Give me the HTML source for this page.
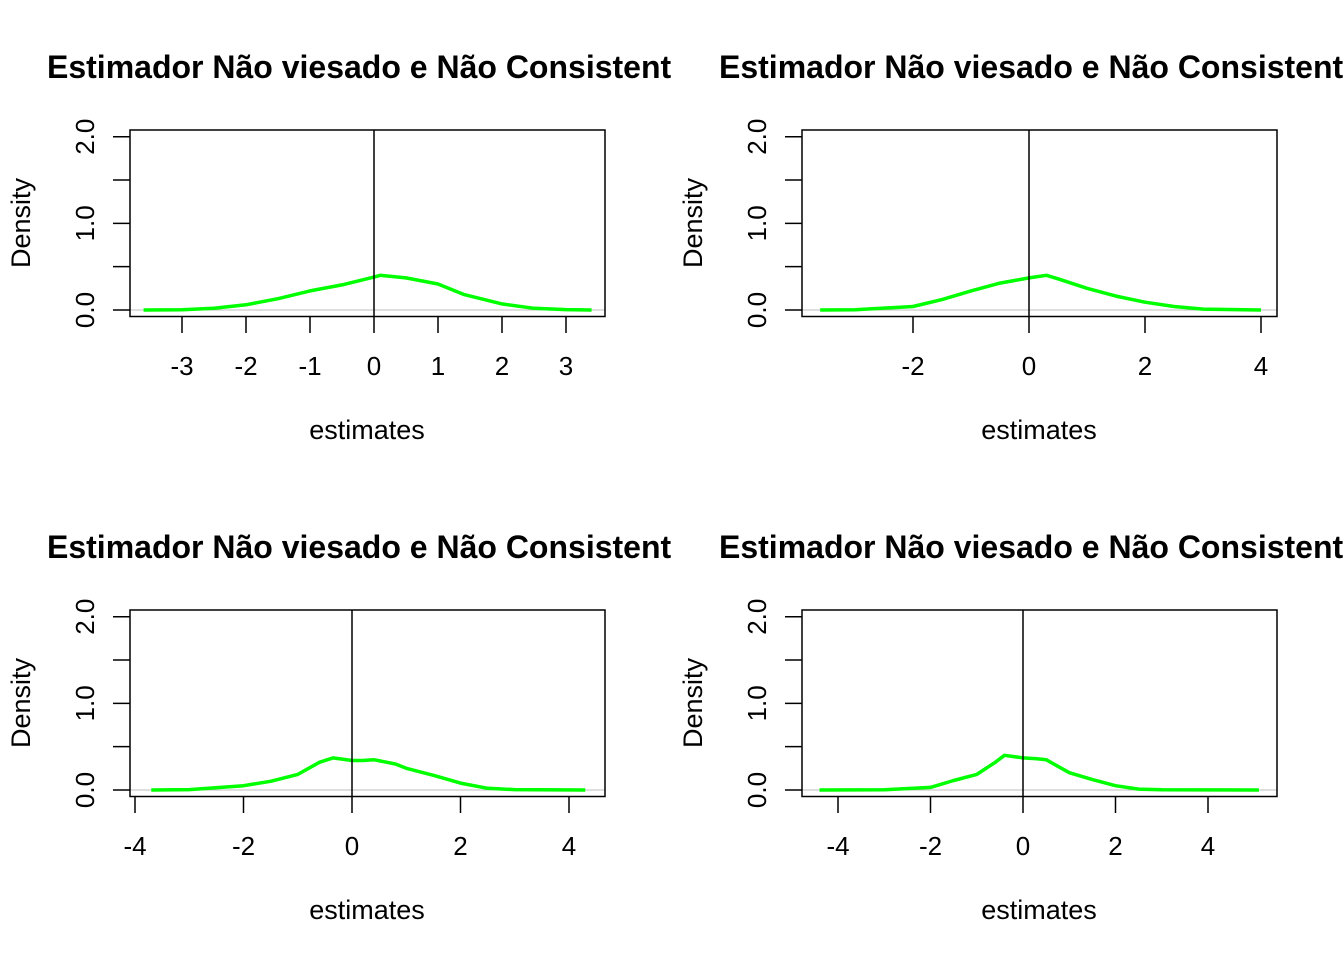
<!DOCTYPE html>
<html><head><meta charset="utf-8"><style>
body{margin:0;background:#fff}
svg{display:block;font-family:"Liberation Sans",Arial,sans-serif}
</style></head><body>
<svg id="chart" width="1344" height="960" xmlns="http://www.w3.org/2000/svg"></svg>
<script>
// Panel data (x values, density values)
const p1x=[-3.6,-3,-2.5,-2,-1.5,-1,-0.5,0,0.1,0.5,1,1.4,2,2.5,3,3.4];
const p1y=[0,0.003,0.02,0.06,0.13,0.22,0.29,0.38,0.40,0.37,0.30,0.18,0.07,0.02,0.005,0];
const p2x=[-3.6,-3,-2,-1.5,-1,-0.5,0,0.3,0.5,1,1.5,2,2.5,3,4];
const p2y=[0,0.003,0.04,0.12,0.22,0.31,0.37,0.40,0.36,0.25,0.16,0.09,0.04,0.01,0];
const p3x=[-3.7,-3,-2,-1.5,-1,-0.6,-0.35,0,0.2,0.4,0.8,1,1.5,2,2.5,3,4.3];
const p3y=[0,0.005,0.05,0.10,0.18,0.32,0.37,0.34,0.34,0.35,0.30,0.25,0.17,0.08,0.02,0.005,0];
const p4x=[-4.4,-3,-2,-1.5,-1,-0.6,-0.4,0,0.3,0.5,1,1.5,2,2.5,3,5.1];
const p4y=[0,0.002,0.03,0.11,0.18,0.32,0.40,0.37,0.36,0.35,0.20,0.12,0.05,0.01,0.002,0];
const p1ticks=[-3,-2,-1,0,1,2,3];
const p2ticks=[-2,0,2,4];
const p3ticks=[-4,-2,0,2,4];
const p4ticks=[-4,-2,0,2,4];
const yTicks=[0,0.5,1,1.5,2];
const yLabels=["0.0","","1.0","","2.0"];
const titleText="Estimador Não viesado e Não Consistente";

const svg=document.getElementById('chart');
const NS="http://www.w3.org/2000/svg";
function mk(tag,attrs,parent){const e=document.createElementNS(NS,tag);for(const k in attrs)e.setAttribute(k,attrs[k]);(parent||svg).appendChild(e);return e;}

const panels=[
 {xs:p1x,ys:p1y,ticks:p1ticks,ox:0,oy:0,x0:374,ppu:64},
 {xs:p2x,ys:p2y,ticks:p2ticks,ox:672,oy:0,x0:1029-672,ppu:58},
 {xs:p3x,ys:p3y,ticks:p3ticks,ox:0,oy:480,x0:352,ppu:54.25},
 {xs:p4x,ys:p4y,ticks:p4ticks,ox:672,oy:480,x0:1023-672,ppu:46.25}
];
panels.forEach((p,i)=>{
 const g=mk('g',{transform:`translate(${p.ox},${p.oy})`});
 
 
 const X=v=>p.x0+v*p.ppu;
 const Y=v=>310-v*86.65;
 const L=130,R=605,T=130,B=316.5;
 const clip=mk('clipPath',{id:'c'+i},g);
 mk('rect',{x:0,y:0,width:672,height:480},clip);
 const t=mk('text',{x:47,y:78,'font-size':'32','font-weight':'bold','clip-path':`url(#c${i})`},g);
 t.textContent=titleText;
 
 
 const z=mk('line',{x1:L,x2:R,y1:Y(0),y2:Y(0),stroke:'#bebebe','stroke-width':1},g);
 
 
 const pts=p.xs.map((x,j)=>X(x).toFixed(1)+','+Y(p.ys[j]).toFixed(1)).join(' ');
 const c=mk('polyline',{points:pts,fill:'none',stroke:'#00ff00','stroke-width':3.5,'stroke-linejoin':'round'},g);
 
 
 const v=mk('line',{x1:X(0),x2:X(0),y1:T,y2:B,stroke:'#000','stroke-width':1.5},g);
 
 
 const box=mk('rect',{x:L,y:T,width:R-L,height:B-T,fill:'none',stroke:'#000','stroke-width':1.5},g);
 
 
 p.ticks.forEach(tv=>{
  const tk=mk('line',{x1:X(tv),x2:X(tv),y1:B,y2:333,stroke:'#000','stroke-width':1.5},g);
  
  
  const tl=mk('text',{x:X(tv),y:375,'font-size':'26','text-anchor':'middle'},g);
  tl.textContent=String(tv);
  
  
 });
 yTicks.forEach((tv,j)=>{
  const tk=mk('line',{x1:113,x2:L,y1:Y(tv),y2:Y(tv),stroke:'#000','stroke-width':1.5},g);
  
  
  if(yLabels[j]){
   const tl=mk('text',{x:0,y:0,'font-size':'26','text-anchor':'middle',transform:`translate(94,${Y(tv)}) rotate(-90)`},g);
   tl.textContent=yLabels[j];
   
   
  }
 });
 const xt=mk('text',{x:367,y:439,'font-size':'27','text-anchor':'middle'},g);
 xt.textContent='estimates';
 
 
 const yt=mk('text',{x:0,y:0,'font-size':'27','text-anchor':'middle',transform:'translate(30,223) rotate(-90)'},g);
 yt.textContent='Density';
 
 
});
</script>
</body></html>
